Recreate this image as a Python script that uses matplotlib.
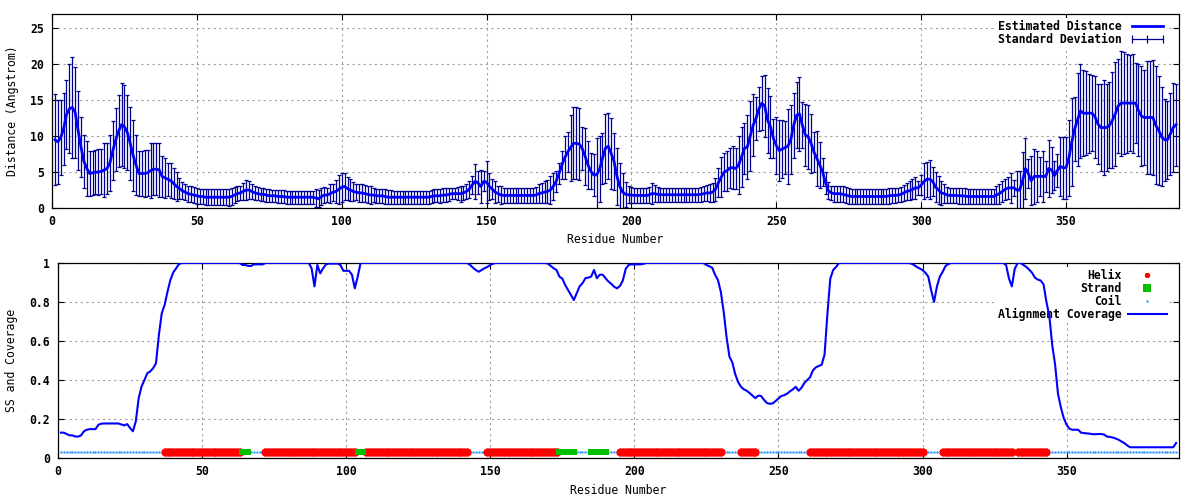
import matplotlib
matplotlib.use("Agg")
import matplotlib.pyplot as plt
from matplotlib.lines import Line2D
from matplotlib.ticker import FuncFormatter

# estimated distance per residue (Angstrom)
dist_mean = [
    9.5, 9.2, 9.8, 11.0, 13.0, 13.8, 14.0, 13.3, 10.8, 8.5,
    6.5, 5.5, 4.8, 4.9, 5.0, 5.0, 5.1, 5.3, 5.5, 6.3,
    8.0, 9.5, 10.7, 11.6, 11.3, 10.5, 9.0, 7.3, 6.0, 4.8,
    4.8, 4.8, 4.9, 5.2, 5.4, 5.4, 5.3, 4.4, 4.2, 4.0,
    3.8, 3.4, 3.0, 2.7, 2.4, 2.2, 2.0, 1.9, 1.8, 1.7,
    1.6, 1.6, 1.5, 1.5, 1.5, 1.5, 1.5, 1.5, 1.5, 1.5,
    1.5, 1.6, 1.8, 2.0, 2.1, 2.3, 2.5, 2.5, 2.3, 2.1,
    2.0, 1.9, 1.9, 1.8, 1.7, 1.7, 1.7, 1.6, 1.6, 1.6,
    1.5, 1.5, 1.5, 1.5, 1.5, 1.5, 1.5, 1.5, 1.5, 1.5,
    1.4, 1.3, 1.6, 1.8, 1.8, 2.0, 2.2, 2.3, 2.6, 2.9,
    3.0, 2.7, 2.5, 2.3, 2.2, 2.1, 2.1, 2.0, 1.9, 1.8,
    1.8, 1.7, 1.7, 1.7, 1.6, 1.5, 1.5, 1.5, 1.5, 1.5,
    1.5, 1.5, 1.5, 1.5, 1.5, 1.5, 1.5, 1.5, 1.5, 1.5,
    1.6, 1.7, 1.7, 1.7, 1.8, 1.8, 1.9, 2.0, 2.0, 2.0,
    2.0, 2.1, 2.3, 2.6, 3.2, 3.7, 3.5, 3.0, 3.7, 3.6,
    3.0, 2.6, 2.2, 2.0, 1.8, 1.75, 1.75, 1.75, 1.75, 1.75,
    1.75, 1.75, 1.75, 1.75, 1.75, 1.75, 1.8, 2.0, 2.1, 2.2,
    2.3, 2.5, 3.0, 3.7, 4.8, 6.0, 7.0, 7.8, 8.4, 9.0,
    9.0, 8.9, 8.3, 7.2, 6.0, 5.1, 4.6, 4.6, 5.4, 6.9,
    8.3, 8.6, 7.6, 6.5, 4.4, 3.0, 2.2, 1.9, 1.85, 1.8,
    1.75, 1.75, 1.75, 1.75, 1.75, 1.8, 2.0, 2.0, 1.9, 1.85,
    1.85, 1.85, 1.85, 1.85, 1.85, 1.85, 1.85, 1.85, 1.85, 1.85,
    1.85, 1.85, 1.85, 1.9, 2.0, 2.1, 2.1, 2.2, 2.6, 3.5,
    4.3, 5.0, 5.2, 5.6, 5.6, 5.5, 6.0, 7.1, 8.3, 8.5,
    10.0, 11.5, 12.5, 13.8, 14.6, 14.2, 12.2, 11.3, 9.7, 8.7,
    8.0, 8.2, 8.4, 8.6, 9.5, 11.5, 12.9, 13.1, 11.5, 10.2,
    9.9, 9.0, 7.8, 6.9, 6.0, 5.0, 3.5, 2.4, 2.1, 2.0,
    2.0, 2.0, 1.9, 1.8, 1.7, 1.6, 1.6, 1.6, 1.6, 1.6,
    1.6, 1.6, 1.6, 1.6, 1.6, 1.6, 1.6, 1.6, 1.7, 1.75,
    1.75, 1.8, 1.9, 2.1, 2.3, 2.4, 2.6, 2.8, 2.8, 3.2,
    3.7, 4.0, 4.0, 3.7, 2.9, 2.5, 2.1, 2.0, 1.8, 1.75,
    1.75, 1.75, 1.7, 1.7, 1.65, 1.6, 1.6, 1.6, 1.6, 1.6,
    1.6, 1.6, 1.6, 1.6, 1.6, 1.8, 2.0, 2.3, 2.6, 2.8,
    2.8, 2.8, 2.5, 2.5, 3.8, 5.5, 4.8, 3.8, 4.4, 4.4,
    4.4, 4.4, 4.4, 5.5, 5.3, 4.5, 5.2, 5.8, 5.6, 5.6,
    7.0, 9.2, 11.0, 12.3, 13.5, 13.2, 13.2, 13.2, 13.2, 12.7,
    11.7, 11.2, 11.2, 11.2, 11.5, 12.2, 13.1, 14.2, 14.6, 14.6,
    14.6, 14.6, 14.6, 14.6, 13.6, 12.8, 12.6, 12.6, 12.6, 12.6,
    11.5, 10.8, 9.9, 9.5, 9.5, 10.3, 11.2, 11.6,
]

# standard deviation per residue
dist_std = [
    6.3, 5.8, 5.2, 5.0, 4.8, 6.2, 7.0, 6.3, 5.5, 4.2,
    3.7, 3.8, 3.1, 3.1, 3.1, 3.2, 3.1, 3.7, 3.5, 3.9,
    4.1, 4.4, 5.0, 5.8, 5.8, 5.2, 5.1, 5.0, 4.2, 3.1,
    3.1, 3.3, 3.2, 3.8, 3.6, 3.6, 3.7, 2.8, 2.8, 2.3,
    2.4, 2.1, 2.0, 1.5, 1.2, 1.1, 1.1, 1.1, 1.1, 1.1,
    1.1, 1.1, 1.1, 1.1, 1.1, 1.1, 1.1, 1.1, 1.1, 1.1,
    1.2, 1.2, 1.1, 1.0, 1.0, 1.2, 1.4, 1.2, 1.0, 1.0,
    0.9, 0.9, 0.9, 0.9, 0.9, 0.8, 0.8, 0.9, 0.9, 0.9,
    0.9, 0.9, 0.9, 0.9, 0.9, 0.9, 0.9, 0.9, 0.9, 0.9,
    1.2, 1.2, 1.2, 1.1, 1.0, 1.3, 1.2, 1.6, 2.0, 2.0,
    1.9, 1.6, 1.5, 1.3, 1.1, 1.2, 1.2, 1.2, 1.2, 1.2,
    1.0, 1.0, 1.0, 1.0, 1.0, 1.0, 1.0, 0.9, 0.9, 0.9,
    0.9, 0.9, 0.9, 0.9, 0.9, 0.9, 0.9, 0.9, 0.9, 0.9,
    0.9, 0.9, 0.9, 1.0, 1.0, 1.0, 0.9, 0.8, 0.8, 0.9,
    1.1, 1.0, 1.0, 1.2, 1.3, 2.4, 1.6, 2.3, 1.4, 2.9,
    1.9, 1.4, 1.5, 1.1, 1.2, 1.1, 1.1, 1.1, 1.1, 1.1,
    1.1, 1.1, 1.1, 1.1, 1.1, 1.1, 1.1, 1.3, 1.4, 1.5,
    1.6, 2.0, 1.9, 1.5, 1.5, 1.9, 3.0, 2.8, 4.6, 5.0,
    5.0, 5.0, 3.0, 4.0, 3.3, 2.5, 2.9, 5.1, 4.6, 3.5,
    4.8, 4.6, 4.9, 4.0, 4.0, 3.3, 2.7, 1.7, 1.2, 1.1,
    1.1, 1.1, 1.1, 1.1, 1.1, 1.1, 1.5, 1.2, 1.0, 1.0,
    1.0, 1.0, 1.0, 1.0, 1.0, 1.0, 1.0, 1.0, 1.0, 1.0,
    1.0, 1.0, 1.0, 1.0, 1.0, 1.1, 1.2, 1.3, 1.6, 2.0,
    2.8, 2.6, 2.8, 2.8, 3.0, 2.8, 4.0, 4.2, 3.5, 4.4,
    4.9, 4.3, 3.0, 3.1, 3.8, 4.3, 4.5, 4.3, 2.7, 3.9,
    4.3, 4.0, 3.7, 5.2, 4.8, 4.5, 4.6, 5.1, 3.2, 4.3,
    4.5, 4.1, 2.8, 3.8, 3.2, 2.0, 1.5, 1.2, 1.0, 1.1,
    1.1, 1.1, 1.1, 1.1, 1.1, 1.1, 1.1, 1.1, 1.1, 1.1,
    1.1, 1.1, 1.1, 1.1, 1.1, 1.1, 1.1, 1.1, 1.1, 1.1,
    1.0, 1.0, 1.0, 1.1, 1.2, 1.3, 1.4, 1.5, 1.0, 1.4,
    2.5, 2.4, 2.7, 2.0, 2.1, 1.9, 1.7, 1.3, 1.1, 1.1,
    1.1, 1.1, 1.1, 1.1, 1.1, 1.1, 1.1, 1.1, 1.1, 1.1,
    1.1, 1.1, 1.1, 1.1, 1.1, 1.2, 1.4, 1.5, 1.5, 1.5,
    2.1, 1.1, 2.7, 2.7, 4.0, 4.3, 2.0, 3.4, 3.8, 3.6,
    2.7, 3.5, 2.2, 4.0, 3.2, 2.0, 2.3, 4.1, 4.3, 4.3,
    5.3, 6.1, 4.4, 6.5, 6.6, 6.0, 5.8, 5.5, 5.3, 5.7,
    5.6, 6.0, 6.6, 6.0, 6.0, 6.7, 7.2, 6.5, 7.3, 7.1,
    6.9, 6.7, 6.9, 5.6, 6.4, 6.9, 6.6, 7.9, 7.9, 8.0,
    8.2, 7.6, 6.9, 5.7, 5.4, 5.7, 6.2, 5.7,
]

# alignment coverage per residue
coverage = [
    0.13, 0.13, 0.123, 0.116, 0.116, 0.11, 0.11, 0.116, 0.137, 0.145,
    0.148, 0.148, 0.148, 0.17, 0.176, 0.177, 0.177, 0.177, 0.177, 0.177,
    0.177, 0.172, 0.167, 0.174, 0.154, 0.137, 0.188, 0.307, 0.367, 0.40,
    0.435, 0.444, 0.46, 0.486, 0.63, 0.742, 0.785, 0.853, 0.913, 0.952,
    0.973, 0.995, 1.0, 1.0, 1.0, 1.0, 1.0, 1.0, 1.0, 1.0,
    1.0, 1.0, 1.0, 1.0, 1.0, 1.0, 1.0, 1.0, 1.0, 1.0,
    1.0, 1.0, 1.0, 0.99, 0.99, 0.985, 0.985, 0.993, 0.993, 0.993,
    0.993, 1.0, 1.0, 1.0, 1.0, 1.0, 1.0, 1.0, 1.0, 1.0,
    1.0, 1.0, 1.0, 1.0, 1.0, 1.0, 1.0, 0.973, 0.88, 0.99,
    0.947, 0.973, 0.993, 0.997, 0.997, 0.997, 0.997, 0.99, 0.96, 0.96,
    0.96, 0.94, 0.87, 0.93, 1.0, 1.0, 1.0, 1.0, 1.0, 1.0,
    1.0, 1.0, 1.0, 1.0, 1.0, 1.0, 1.0, 1.0, 1.0, 1.0,
    1.0, 1.0, 1.0, 1.0, 1.0, 1.0, 1.0, 1.0, 1.0, 1.0,
    1.0, 1.0, 1.0, 1.0, 1.0, 1.0, 1.0, 1.0, 1.0, 1.0,
    1.0, 1.0, 0.99, 0.976, 0.964, 0.955, 0.964, 0.973, 0.98, 0.99,
    0.997, 1.0, 1.0, 1.0, 1.0, 1.0, 1.0, 1.0, 1.0, 1.0,
    1.0, 1.0, 1.0, 1.0, 1.0, 1.0, 1.0, 1.0, 1.0, 0.997,
    0.985, 0.973, 0.964, 0.93, 0.92, 0.887, 0.862, 0.836, 0.81, 0.845,
    0.88, 0.896, 0.922, 0.925, 0.93, 0.964, 0.922, 0.94, 0.94, 0.922,
    0.905, 0.893, 0.878, 0.87, 0.882, 0.91, 0.97, 0.99, 0.993, 0.993,
    0.993, 0.993, 0.995, 1.0, 1.0, 1.0, 1.0, 1.0, 1.0, 1.0,
    1.0, 1.0, 1.0, 1.0, 1.0, 1.0, 1.0, 1.0, 1.0, 1.0,
    1.0, 1.0, 1.0, 1.0, 0.99, 0.983, 0.976, 0.94, 0.913, 0.853,
    0.75, 0.62, 0.52, 0.49, 0.43, 0.39, 0.365, 0.352, 0.345, 0.333,
    0.32, 0.307, 0.32, 0.318, 0.298, 0.282, 0.278, 0.28, 0.292, 0.305,
    0.318, 0.322, 0.33, 0.342, 0.352, 0.365, 0.345, 0.36, 0.385, 0.40,
    0.415, 0.45, 0.465, 0.472, 0.478, 0.53, 0.74, 0.92, 0.964, 0.98,
    1.0, 1.0, 1.0, 1.0, 1.0, 1.0, 1.0, 1.0, 1.0, 1.0,
    1.0, 1.0, 1.0, 1.0, 1.0, 1.0, 1.0, 1.0, 1.0, 1.0,
    1.0, 1.0, 1.0, 1.0, 1.0, 0.998, 0.99, 0.98, 0.972, 0.964,
    0.95, 0.93, 0.86, 0.80, 0.88, 0.93, 0.955, 0.985, 0.995, 1.0,
    1.0, 1.0, 1.0, 1.0, 1.0, 1.0, 1.0, 1.0, 1.0, 1.0,
    1.0, 1.0, 1.0, 1.0, 1.0, 1.0, 1.0, 1.0, 0.99, 0.92,
    0.88, 0.97, 1.0, 1.0, 0.99, 0.98, 0.966, 0.95, 0.925, 0.915,
    0.91, 0.89, 0.80, 0.73, 0.58, 0.48, 0.33, 0.26, 0.205, 0.17,
    0.15, 0.145, 0.145, 0.145, 0.13, 0.128, 0.126, 0.125, 0.122, 0.122,
    0.123, 0.123, 0.12, 0.11, 0.108, 0.105, 0.1, 0.094, 0.085, 0.077,
    0.065, 0.055, 0.055, 0.055, 0.055, 0.055, 0.055, 0.055, 0.055, 0.055,
    0.055, 0.055, 0.055, 0.055, 0.055, 0.055, 0.055, 0.077,
]

# secondary structure as (type, run length): H helix, E strand, C coil
ss_segments = [
    ("C", 36), ("H", 27), ("E", 3), ("C", 5), ("H", 32), ("E", 3),
    ("H", 36), ("C", 6), ("H", 25), ("E", 6), ("C", 5), ("E", 6),
    ("C", 4), ("H", 36), ("C", 6), ("H", 6), ("C", 18), ("H", 40),
    ("C", 6), ("H", 25), ("C", 1), ("H", 11), ("C", 45),
]
ss_level = 0.03

residues = list(range(1, len(dist_mean) + 1))
ss = "".join(kind * n for kind, n in ss_segments)

plt.rcParams['font.family'] = ['DejaVu Sans Mono']
plt.rcParams['font.weight'] = 'bold'
plt.rcParams['font.size'] = 8.3

fig = plt.figure(figsize=(12, 5), dpi=100)
ax1 = fig.add_axes([52 / 1200, 1 - 208 / 500, 1127 / 1200, 194 / 500])
ax2 = fig.add_axes([58 / 1200, 1 - 458 / 500, 1121 / 1200, 195 / 500])

grid_kw = dict(color='#a0a0a0', linestyle=(0, (2, 3)), linewidth=0.8)
leg_kw = dict(loc='upper right', bbox_to_anchor=(0.994, 1.0), markerfirst=False,
              frameon=True, facecolor='white', edgecolor='none', framealpha=1,
              fancybox=False, handlelength=3.3, handletextpad=0.6, labelspacing=0.0,
              borderpad=0.15, borderaxespad=0.35)

# --- distance panel
ax1.errorbar(residues, dist_mean, yerr=dist_std, fmt='none', ecolor='#000090',
             elinewidth=0.9, capsize=1.6, capthick=0.9, zorder=2)
ax1.plot(residues, dist_mean, color='#0000ff', lw=2.0, zorder=3)
ax1.set_xlim(0, 389)
ax1.set_ylim(0, 27)
ax1.set_xticks(range(0, 351, 50))
ax1.set_yticks(range(0, 26, 5))
ax1.set_xlabel('Residue Number', labelpad=4)
ax1.set_ylabel('Distance (Angstrom)', labelpad=8)

h1 = [Line2D([], [], color='#0000ff', lw=2.0),
      Line2D([], [], color='#000090', lw=0.9, marker='|', ms=6, mew=0.9)]
leg1 = ax1.legend(h1, ['Estimated Distance', 'Standard Deviation'], numpoints=3, **leg_kw)
leg1.set_zorder(1)

# --- SS / coverage panel
helix_x = [r for r, s in zip(residues, ss) if s == 'H']
strand_x = [r for r, s in zip(residues, ss) if s == 'E']
coil_x = [r for r, s in zip(residues, ss) if s == 'C']

ax2.plot(coil_x, [ss_level] * len(coil_x), ls='none', marker='.', ms=1.5,
         color='#3399ff', zorder=2)
ax2.plot(helix_x, [ss_level] * len(helix_x), ls='none', marker=(6, 2, 0), ms=5.5,
         mew=2.2, color='#ff0000', zorder=3)
ax2.plot(strand_x, [ss_level] * len(strand_x), ls='none', marker='s', ms=5,
         mew=0, color='#00c000', zorder=3)
ax2.plot(residues, coverage, color='#0000ff', lw=1.5, zorder=4)
ax2.set_xlim(0, 389)
ax2.set_ylim(0, 1)
ax2.set_xticks(range(0, 351, 50))
ax2.set_yticks([0, 0.2, 0.4, 0.6, 0.8, 1.0])
ax2.yaxis.set_major_formatter(FuncFormatter(lambda v, p: '%g' % v))
ax2.set_xlabel('Residue Number', labelpad=4)
ax2.set_ylabel('SS and Coverage', labelpad=8)

h2 = [Line2D([], [], ls='none', marker=(6, 2, 0), ms=3.5, mew=1.6, color='#ff0000'),
      Line2D([], [], ls='none', marker='s', ms=5.5, mew=0, color='#00c000'),
      Line2D([], [], ls='none', marker='.', ms=1.5, color='#3399ff'),
      Line2D([], [], color='#0000ff', lw=1.5)]
leg2 = ax2.legend(h2, ['Helix', 'Strand', 'Coil', 'Alignment Coverage'], numpoints=1, **leg_kw)
leg2.set_zorder(1)

for ax in (ax1, ax2):
    ax.set_axisbelow(True)
    ax.grid(True, **grid_kw)
    ax.tick_params(direction='in', top=True, right=True, length=4, width=0.8, pad=6)
    ax.tick_params(axis='x', pad=5)
    for sp in ax.spines.values():
        sp.set_linewidth(0.9)

fig.savefig('out.png', dpi=100)
